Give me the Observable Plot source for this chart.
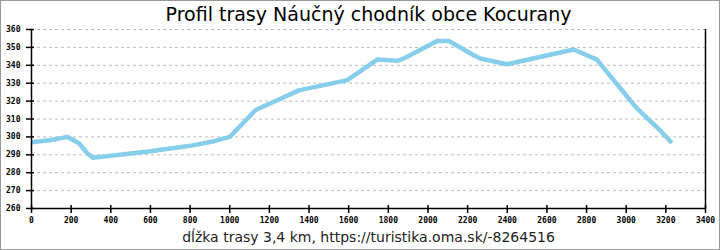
<!DOCTYPE html>
<html>
<head>
<meta charset="utf-8">
<script src="https://cdn.jsdelivr.net/npm/d3@7"></script>
<script src="https://cdn.jsdelivr.net/npm/@observablehq/plot@0.6"></script>
<style>
  html, body { margin: 0; padding: 0; background: #fff; }
  #wrap { position: relative; width: 720px; height: 250px; }
  #frame { position: absolute; left: 0; top: 0; width: 720px; height: 250px; box-sizing: border-box; border: 1px solid #999; pointer-events: none; }
</style>
</head>
<body>
<div id="wrap"><div id="frame"></div></div>
<script>
const title = "Profil trasy Náučný chodník obce Kocurany";
const caption = "dĺžka trasy 3,4 km, https://turistika.oma.sk/-8264516";
const dist = [0, 100, 182, 240, 280, 310, 400, 600, 800, 920, 1000, 1131, 1349, 1593, 1744, 1845, 1878, 2046, 2105, 2231, 2264, 2399, 2735, 2852, 2986, 3054, 3171, 3230];
const elev = [297, 298.3, 300, 296.5, 291, 288.3, 289.5, 292, 295, 297.6, 300, 315, 326, 331.7, 343.2, 342.5, 343.8, 353.6, 353.6, 345.6, 343.8, 340.6, 348.8, 343.2, 325.1, 315.9, 303.7, 296.6];
const xTicks = d3.range(0, 3401, 200);
const yTicks = d3.range(260, 361, 10);
const gridY = d3.range(270, 361, 10);

const data = dist.map((d, i) => ({x: d, y: elev[i]}));
const tickFont = {fontFamily: "DejaVu Sans Mono", fontSize: 8, fontWeight: "bold"};
const fmt = d => String(d);

const chart = Plot.plot({
  width: 720,
  height: 250,
  marginLeft: 31,
  marginRight: 15,
  marginTop: 29,
  marginBottom: 42,
  x: {domain: [0, 3400]},
  y: {domain: [260, 360]},
  style: {background: "transparent", color: "#000"},
  marks: [
    Plot.ruleY(gridY, {stroke: "#bbb", strokeDasharray: "3,3", strokeOpacity: 1}),
    Plot.line(data, {x: "x", y: "y", stroke: "#87ceeb", strokeWidth: 4.5, strokeLinejoin: "round", strokeLinecap: "butt"}),
    Plot.ruleX([0, 3400], {stroke: "#000", strokeWidth: 1.5}),
    Plot.ruleY([260], {stroke: "#000", strokeWidth: 1.5}),
    Plot.axisY({ticks: yTicks, tickFormat: fmt, tickSize: 5, tickPadding: 6, label: null, ...tickFont, strokeWidth: 1.5}),
    Plot.axisY({ticks: yTicks, tickSize: -3, text: null, label: null, strokeWidth: 1.5}),
    Plot.axisX({ticks: xTicks, tickFormat: fmt, tickSize: 5, tickPadding: 4, label: null, ...tickFont, strokeWidth: 1.5}),
    Plot.axisX({ticks: xTicks, tickSize: -3, text: null, label: null, strokeWidth: 1.5}),
    Plot.text([title], {frameAnchor: "top", dy: -9, lineAnchor: "bottom", fontFamily: "DejaVu Sans", fontSize: 19, fill: "#000"}),
    Plot.text([caption], {frameAnchor: "bottom", dy: 33, lineAnchor: "bottom", fontFamily: "DejaVu Sans", fontSize: 14, fill: "#222"})
  ]
});
document.getElementById("wrap").prepend(chart);
</script>
</body>
</html>
